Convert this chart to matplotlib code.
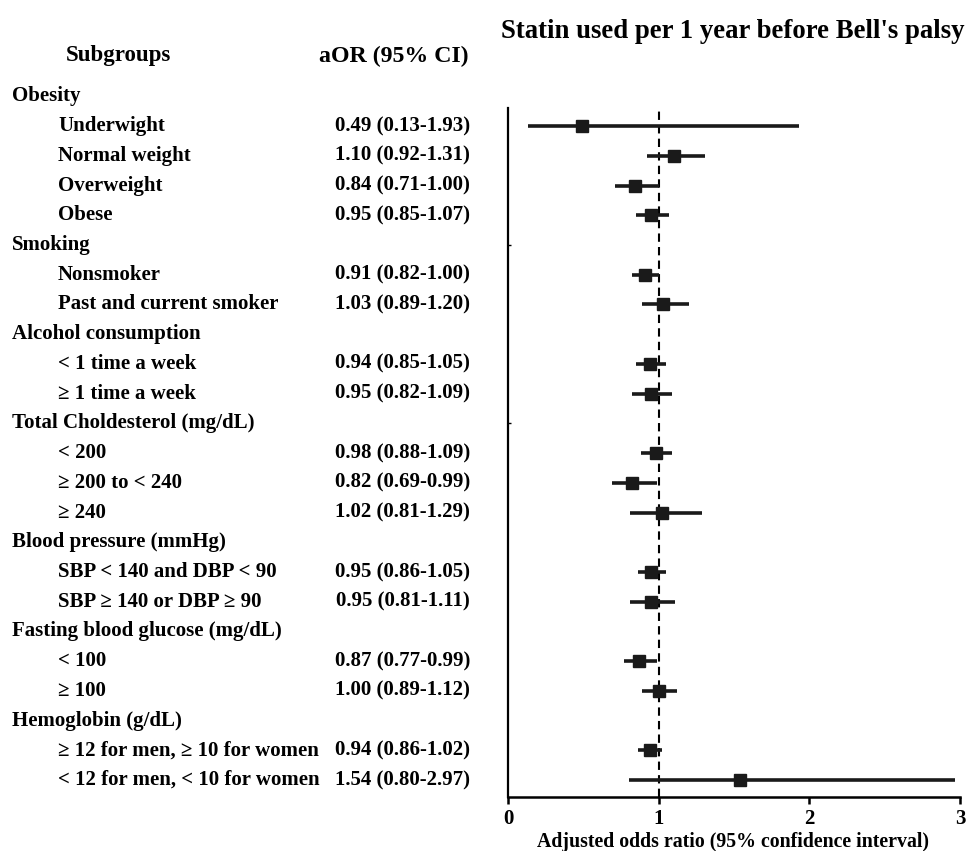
import matplotlib
matplotlib.use("Agg")
import matplotlib.pyplot as plt
from matplotlib.transforms import blended_transform_factory

plt.rcParams["font.family"] = ["Liberation Serif", "DejaVu Serif"]
plt.rcParams["font.weight"] = "bold"

# rows: labels, header rows, aOR with lower / upper CI
labels = [
    "Obesity", "Underwight", "Normal weight", "Overweight", "Obese",
    "Smoking", "Nonsmoker", "Past and current smoker",
    "Alcohol consumption", "< 1 time a week", "\u2265 1 time a week",
    "Total Choldesterol (mg/dL)", "< 200", "\u2265 200 to < 240", "\u2265 240",
    "Blood pressure (mmHg)", "SBP < 140 and DBP < 90", "SBP \u2265 140 or DBP \u2265 90",
    "Fasting blood glucose (mg/dL)", "< 100", "\u2265 100",
    "Hemoglobin (g/dL)", "\u2265 12 for men, \u2265 10 for women", "< 12 for men, < 10 for women",
]
headers = [0, 5, 8, 11, 15, 18, 21]
aor = [None, 0.49, 1.10, 0.84, 0.95, None, 0.91, 1.03, None, 0.94, 0.95,
       None, 0.98, 0.82, 1.02, None, 0.95, 0.95, None, 0.87, 1.00, None, 0.94, 1.54]
lower = [None, 0.13, 0.92, 0.71, 0.85, None, 0.82, 0.89, None, 0.85, 0.82,
         None, 0.88, 0.69, 0.81, None, 0.86, 0.81, None, 0.77, 0.89, None, 0.86, 0.80]
upper = [None, 1.93, 1.31, 1.00, 1.07, None, 1.00, 1.20, None, 1.05, 1.09,
         None, 1.09, 0.99, 1.29, None, 1.05, 1.11, None, 0.99, 1.12, None, 1.02, 2.97]

W, H = 971, 851
fig = plt.figure(figsize=(W / 100, H / 100), dpi=100)
# axes box in pixels: left 508, right 960, top 108, bottom 797
ax = fig.add_axes([508 / W, 1 - 797 / H, (960 - 508) / W, (797 - 108) / H])

ax.set_xlim(0, 3)
ax.set_ylim(23.57, 0.39)
ax.spines["top"].set_visible(False)
ax.spines["right"].set_visible(False)
ax.spines["left"].set_linewidth(1.6)
ax.spines["bottom"].set_linewidth(1.8)
ax.set_xticks([0, 1, 2, 3])
ax.set_xticklabels(["0", "1", "2", "3"], fontsize=15, fontweight="bold")
ax.tick_params(axis="x", direction="out", length=5, width=1.8, pad=4)
ax.set_yticks([5, 11])
ax.set_yticklabels([])
ax.tick_params(axis="y", direction="in", length=2, width=1)

ax.axvline(1, color="black", linestyle=(0, (4, 2.5)), linewidth=1.5, zorder=1)

for i in range(len(labels)):
    if aor[i] is None:
        continue
    ax.plot([lower[i], upper[i]], [i, i], color="#1a1a1a", linewidth=2.6,
            solid_capstyle="butt", zorder=2)
    ax.plot(aor[i], i, marker="s", color="#1a1a1a", markersize=9, zorder=3)

fig.text(733 / W, 1 - 842 / H, "Adjusted odds ratio (95% confidence interval)",
         ha="center", va="center", fontsize=14.3, fontweight="bold")

tr = blended_transform_factory(fig.transFigure, ax.transData)
for i, lab in enumerate(labels):
    if i in headers:
        ax.text(12 / W, i, lab, transform=tr, ha="left", va="center",
                fontsize=15, fontweight="bold", clip_on=False)
    else:
        ax.text(58 / W, i, lab, transform=tr, ha="left", va="center",
                fontsize=15, fontweight="bold", clip_on=False)
        ax.text(470 / W, i, "%.2f (%.2f-%.2f)" % (aor[i], lower[i], upper[i]),
                transform=tr, ha="right", va="center", fontsize=15,
                fontweight="bold", clip_on=False)

fig.text(118 / W, 1 - 56 / H, "Subgroups", ha="center", va="center",
         fontsize=16.5, fontweight="bold")
fig.text(468 / W, 1 - 56 / H, "aOR (95% CI)", ha="right", va="center",
         fontsize=17.2, fontweight="bold")
fig.text(733 / W, 1 - 32 / H, "Statin used per 1 year before Bell's palsy",
         ha="center", va="center", fontsize=19.3, fontweight="bold")

fig.savefig("out.png", dpi=100)
